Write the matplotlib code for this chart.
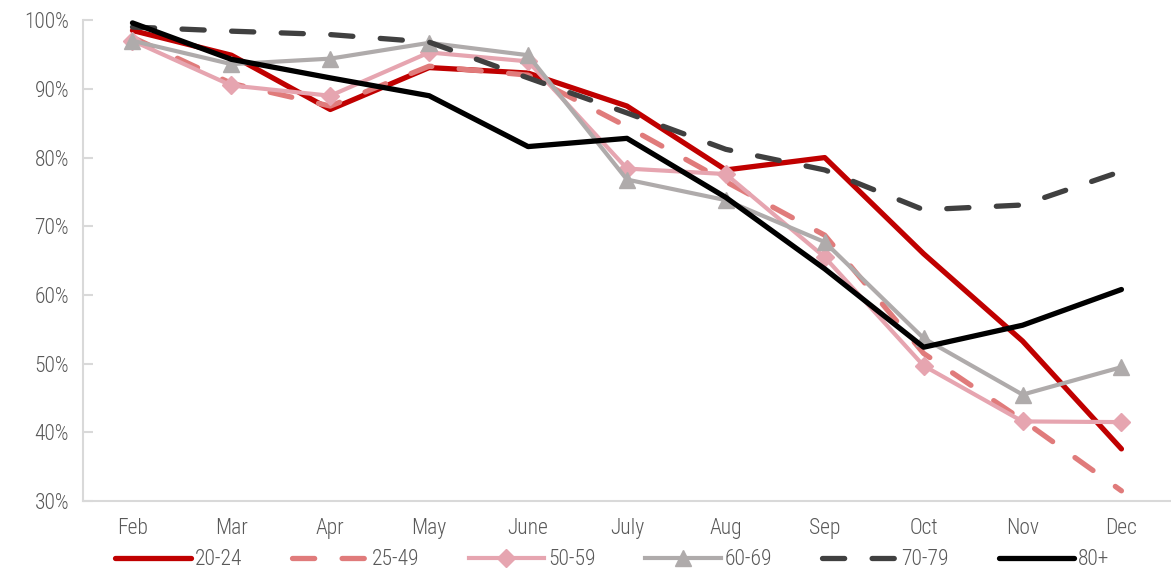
import matplotlib
matplotlib.use("Agg")
from matplotlib import pyplot as plt
from matplotlib.ticker import FuncFormatter

months = ['Feb', 'Mar', 'Apr', 'May', 'June', 'July', 'Aug', 'Sep', 'Oct', 'Nov', 'Dec']

age_20_24 = [98.5, 94.9, 87.0, 93.1, 92.3, 87.5, 78.2, 80.0, 66.0, 53.3, 37.6]
age_25_49 = [97.5, 90.8, 87.5, 93.3, 92.0, 84.5, 76.5, 68.7, 51.5, 41.8, 31.5]
age_50_59 = [97.0, 90.5, 89.0, 95.3, 94.0, 78.4, 77.6, 65.5, 49.7, 41.6, 41.5]
age_60_69 = [97.0, 93.6, 94.4, 96.7, 94.9, 76.8, 73.8, 67.7, 53.7, 45.5, 49.5]
age_70_79 = [99.0, 98.4, 97.9, 96.8, 91.6, 86.5, 81.2, 78.2, 72.4, 73.1, 78.0]
age_80_plus = [99.6, 94.3, 91.6, 89.0, 81.6, 82.8, 74.2, 63.8, 52.4, 55.6, 60.8]

plt.rcParams['font.family'] = ['Roboto Condensed', 'Liberation Sans Narrow', 'Roboto', 'DejaVu Sans']
plt.rcParams['font.weight'] = 'light'

fig = plt.figure(figsize=(11.71, 5.76), dpi=100)
ax = fig.add_axes([0.0709, 0.130, 0.929, 0.835])

x = range(len(months))
ax.plot(x, age_20_24, color='#C00000', lw=3.8, solid_capstyle='round', label='20-24', zorder=3)
ax.plot(x, age_25_49, color='#E07B7B', lw=3.8, dashes=(4.2, 5.2), dash_capstyle='round', label='25-49', zorder=3)
ax.plot(x, age_50_59, color='#E6A5B0', lw=3.0, marker='D', markersize=9, label='50-59', zorder=3)
ax.plot(x, age_60_69, color='#AFABAB', lw=3.0, marker='^', markersize=11, label='60-69', zorder=3)
ax.plot(x, age_70_79, color='#404040', lw=3.8, dashes=(4.2, 5.2), dash_capstyle='round', label='70-79', zorder=3)
ax.plot(x, age_80_plus, color='#000000', lw=3.8, solid_capstyle='round', label='80+', zorder=4)

ax.set_xlim(-0.5, len(months) - 0.5)
ax.set_ylim(30, 100)
ax.set_yticks(range(30, 101, 10))
ax.yaxis.set_major_formatter(FuncFormatter(lambda v, p: '%d%%' % v))
ax.set_xticks(list(x))
ax.set_xticklabels(months)

for side in ['top', 'right']:
    ax.spines[side].set_visible(False)
for side in ['left', 'bottom']:
    ax.spines[side].set_color('#D9D9D9')
    ax.spines[side].set_linewidth(1.5)

ax.tick_params(axis='y', direction='in', length=7, width=1.5, color='#D9D9D9',
               labelsize=15.5, labelcolor='#595959', pad=10)
ax.tick_params(axis='x', length=0, labelsize=15.5, labelcolor='#595959', pad=12)

fig.legend(loc='center', bbox_to_anchor=(0.523, 0.028), ncol=6, frameon=False,
           fontsize=15.5, labelcolor='#595959', handlelength=3.5, handletextpad=0.2,
           columnspacing=2.3)

fig.savefig('out.png', dpi=100)
